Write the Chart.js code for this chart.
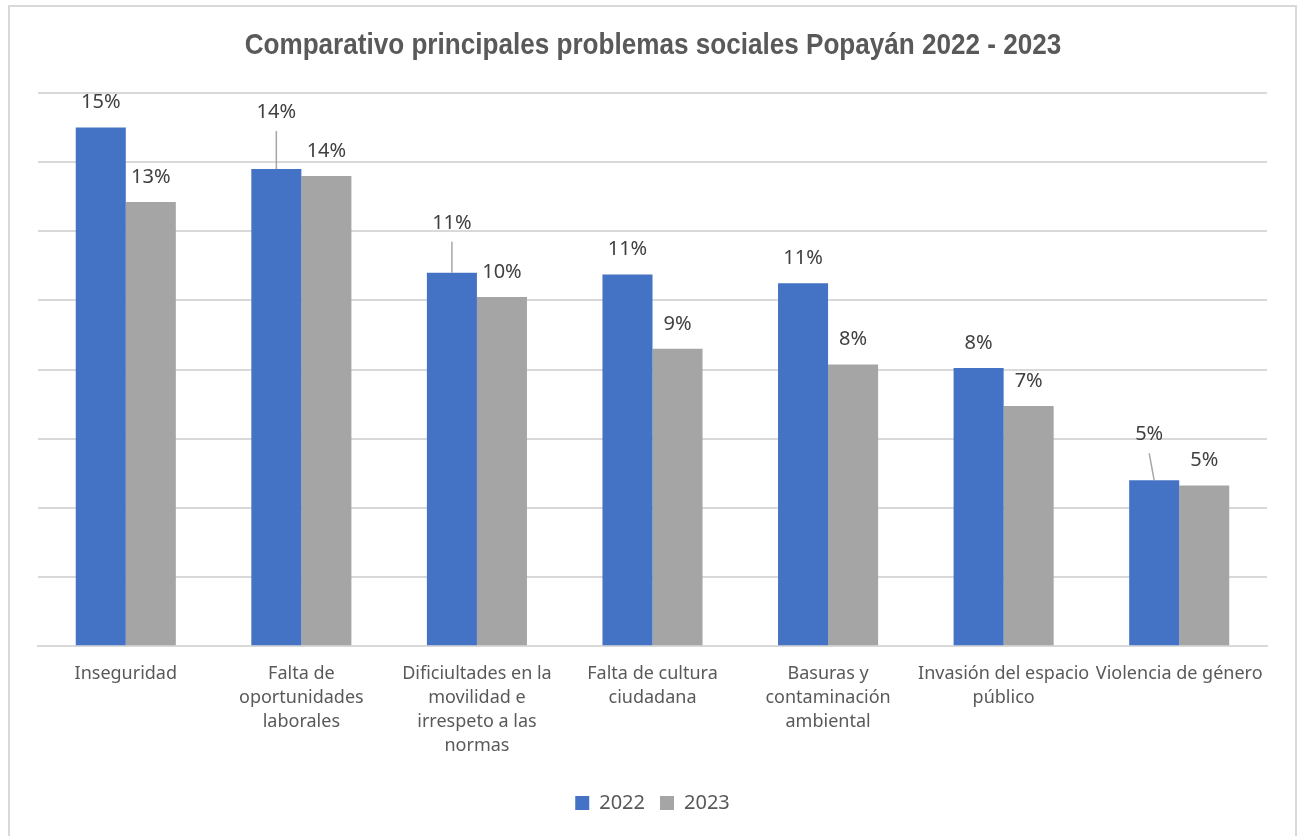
<!DOCTYPE html>
<html>
<head>
<meta charset="utf-8">
<script src="https://cdn.jsdelivr.net/npm/chart.js@4/dist/chart.umd.min.js"></script>
<style>
  html, body { margin: 0; padding: 0; background: #fff; }
  #wrap { width: 1300px; height: 836px; position: relative; }
</style>
</head>
<body>
<div id="wrap"><canvas id="chart" width="1300" height="836"></canvas></div>
<script>
const categories = [
    'Inseguridad',
    ['Falta de', 'oportunidades', 'laborales'],
    ['Dificiultades en la', 'movilidad e', 'irrespeto a las', 'normas'],
    ['Falta de cultura', 'ciudadana'],
    ['Basuras y', 'contaminación', 'ambiental'],
    ['Invasión del espacio', 'público'],
    'Violencia de género'
];
const values2022 = [15.0, 13.8, 10.8, 10.75, 10.5, 8.05, 4.8];
const values2023 = [12.85, 13.6, 10.1, 8.6, 8.15, 6.95, 4.65];
const labels2022 = ['15%', '14%', '11%', '11%', '11%', '8%', '5%'];
const labels2023 = ['13%', '14%', '10%', '9%', '8%', '7%', '5%'];
const titleText = 'Comparativo principales problemas sociales Popayán 2022 - 2023';

// label placement: extra lift above the bar top (px) and sideways shift, per series
const lift2022 = [0, 32, 25, 0, 0, 0, 21];
const shift2022 = [0, 0, 0, 0, 0, 0, -5];

const gray = '#595959';

const frame = {
    id: 'frame',
    beforeDraw(chart) {
        const ctx = chart.ctx;
        ctx.save();
        ctx.fillStyle = '#fff';
        ctx.fillRect(0, 0, chart.width, chart.height);
        ctx.strokeStyle = '#d9d9d9';
        ctx.lineWidth = 2;
        ctx.strokeRect(9, 6, 1287, 850);
        // narrow bold title
        ctx.fillStyle = gray;
        ctx.font = 'bold 30px "Liberation Sans", Arial, sans-serif';
        ctx.textAlign = 'center';
        ctx.textBaseline = 'middle';
        ctx.translate(653, 46);
        ctx.scale(0.87, 1);
        ctx.fillText(titleText, 0, 0);
        ctx.restore();
    }
};

const barLabels = {
    id: 'barLabels',
    afterDatasetsDraw(chart) {
        const ctx = chart.ctx;
        ctx.save();
        ctx.font = '20px "Noto Sans", sans-serif';
        ctx.fillStyle = '#404040';
        ctx.textAlign = 'center';
        ctx.textBaseline = 'middle';
        chart.data.datasets.forEach((ds, di) => {
            const meta = chart.getDatasetMeta(di);
            meta.data.forEach((bar, i) => {
                const lift = di === 0 ? lift2022[i] : 0;
                const shift = di === 0 ? shift2022[i] : 0;
                const x = bar.x + shift;
                const y = bar.y - 25 - lift;
                if (lift > 0) {
                    ctx.strokeStyle = '#a6a6a6';
                    ctx.lineWidth = 1.5;
                    ctx.beginPath();
                    ctx.moveTo(x, y + 19);
                    ctx.lineTo(bar.x, bar.y);
                    ctx.stroke();
                }
                ctx.fillText(ds.labelsText[i], x, y);
            });
        });
        ctx.restore();
    }
};

new Chart(document.getElementById('chart'), {
    type: 'bar',
    data: {
        labels: categories,
        datasets: [
            { label: '2022', data: values2022, labelsText: labels2022, backgroundColor: '#4472c4', borderWidth: 0 },
            { label: '2023', data: values2023, labelsText: labels2023, backgroundColor: '#a5a5a5', borderWidth: 0 }
        ]
    },
    options: {
        responsive: false,
        animation: false,
        devicePixelRatio: 1,
        categoryPercentage: 0.57,
        barPercentage: 1.0,
        layout: { padding: { left: 38, right: 33, top: 93, bottom: 13 } },
        plugins: {
            title: { display: false },
            legend: {
                position: 'bottom',
                labels: {
                    color: gray,
                    font: { family: '"Noto Sans", sans-serif', size: 20 },
                    boxWidth: 14,
                    boxHeight: 14,
                    padding: 15
                }
            },
            tooltip: { enabled: false }
        },
        scales: {
            x: {
                grid: { display: false },
                border: { color: '#d9d9d9', width: 2 },
                afterFit(scale) { scale.height += 12; },
                ticks: {
                    color: gray,
                    font: { family: '"Noto Sans", sans-serif', size: 18, lineHeight: 1.33 },
                    maxRotation: 0,
                    autoSkip: false,
                    padding: 8
                }
            },
            y: {
                min: 0,
                max: 16,
                ticks: { display: false, stepSize: 2 },
                grid: { color: '#d9d9d9', lineWidth: 2, drawTicks: false },
                border: { display: false }
            }
        }
    },
    plugins: [frame, barLabels]
});
</script>
</body>
</html>
